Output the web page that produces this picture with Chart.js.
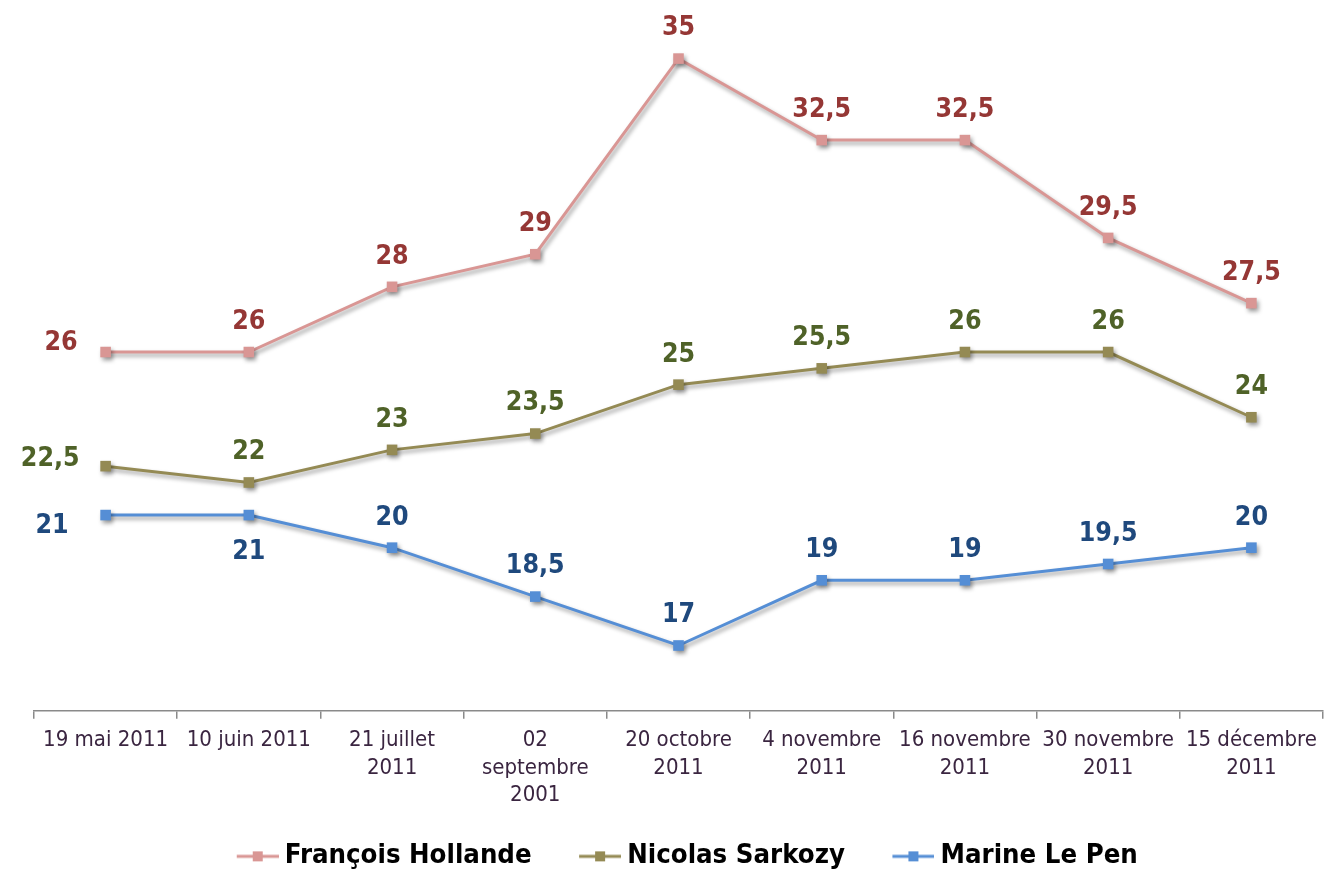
<!DOCTYPE html>
<html><head><meta charset="utf-8">
<script src="https://cdn.jsdelivr.net/npm/chart.js@4"></script>
<style>html,body{margin:0;padding:0;background:#fff}#wrap{width:1325px;height:872px}</style>
</head><body><div id="wrap"><canvas id="c" width="1325" height="872"></canvas></div>
<script>
const categories = [["19 mai 2011"],["10 juin 2011"],["21 juillet","2011"],["02","septembre","2001"],["20 octobre","2011"],["4 novembre","2011"],["16 novembre","2011"],["30 novembre","2011"],["15 décembre","2011"]];
const seriesNames = ["François Hollande","Nicolas Sarkozy","Marine Le Pen"];
const hollande = [26, 26, 28, 29, 35, 32.5, 32.5, 29.5, 27.5];
const sarkozy  = [22.5, 22, 23, 23.5, 25, 25.5, 26, 26, 24];
const lePen    = [21, 21, 20, 18.5, 17, 19, 19, 19.5, 20];

// label placement (style, not data)
const hollandePlace = ['leftHi','above','above','above','above','above','above','above','above'];
const sarkozyPlace  = ['leftMid','above','above','above','above','above','above','above','above'];
const lePenPlace    = ['leftLow','below','above','above','above','above','above','above','above'];
const placeOffsets = {
  above:   [0, -30, 'center'],
  below:   [0, 37, 'center'],
  leftHi:  [-28, -9, 'right'],
  leftMid: [-26, -7, 'right'],
  leftLow: [-37, 11, 'right']
};

const FONT = "'DejaVu Sans Condensed', 'DejaVu Sans', sans-serif";
const lineColors  = ['#D99694', '#948A54', '#558ED5'];
const labelColors = ['#953735', '#4F6228', '#1F497D'];

function legendIcon(color) {
  // 67px wide image; visible icon drawn in the right 42px
  const cv = document.createElement('canvas');
  cv.width = 67; cv.height = 14;
  const g = cv.getContext('2d');
  g.strokeStyle = color; g.lineWidth = 3;
  g.beginPath(); g.moveTo(25, 7); g.lineTo(67, 7); g.stroke();
  g.fillStyle = color; g.fillRect(41, 2, 10, 10);
  return cv;
}

const mkDs = (name, data, i, place) => ({
  label: name, data: data,
  borderColor: lineColors[i], backgroundColor: lineColors[i],
  borderWidth: 3, pointStyle: 'rect', pointRadius: 7.5, pointBorderWidth: 0,
  pointBackgroundColor: lineColors[i], tension: 0, clip: false,
  _place: place, _labelColor: labelColors[i]
});

const shadowAndLabels = {
  id: 'shadowAndLabels',
  beforeDatasetsDraw(chart) {
    const ctx = chart.ctx;
    ctx.save();
    ctx.shadowColor = 'rgba(0,0,0,0.38)';
    ctx.shadowBlur = 4;
    ctx.shadowOffsetX = 2;
    ctx.shadowOffsetY = 3;
  },
  afterDatasetsDraw(chart) {
    const ctx = chart.ctx;
    ctx.restore();
    ctx.save();
    ctx.font = 'bold 26.5px ' + FONT;
    ctx.textBaseline = 'middle';
    chart.data.datasets.forEach((ds, di) => {
      const meta = chart.getDatasetMeta(di);
      meta.data.forEach((pt, j) => {
        const off = placeOffsets[ds._place[j]];
        ctx.fillStyle = ds._labelColor;
        ctx.textAlign = off[2];
        const txt = String(ds.data[j]).replace('.', ',');
        ctx.fillText(txt, pt.x + off[0], pt.y + off[1]);
      });
    });
    ctx.restore();
  }
};

new Chart(document.getElementById('c'), {
  type: 'line',
  data: {
    labels: categories,
    datasets: [
      mkDs(seriesNames[0], hollande, 0, hollandePlace),
      mkDs(seriesNames[1], sarkozy, 1, sarkozyPlace),
      mkDs(seriesNames[2], lePen, 2, lePenPlace)
    ]
  },
  options: {
    responsive: false,
    animation: false,
    layout: { autoPadding: false, padding: { left: 34, right: 2, top: 26, bottom: -8 } },
    scales: {
      x: {
        offset: true,
        grid: { offset: true, drawOnChartArea: false, drawTicks: true, tickLength: 8, color: '#8a8a8a', lineWidth: 1.5 },
        border: { display: true, color: '#8a8a8a', width: 1.5 },
        ticks: { autoSkip: false, maxRotation: 0, minRotation: 0, padding: 8, color: '#3a2540',
                 font: { family: FONT, size: 22, lineHeight: 1.25 } },
        afterFit(scale) { scale.height = 102; scale.paddingLeft = 0; scale.paddingRight = 0; }
      },
      y: { display: false, min: 15, max: 36 }
    },
    plugins: {
      tooltip: { enabled: false },
      legend: {
        position: 'bottom',
        labels: {
          usePointStyle: true,
          pointStyleWidth: 52,
          padding: 30,
          color: '#000',
          font: { family: FONT, size: 27.3, weight: 'bold' },
          generateLabels(chart) {
            return chart.data.datasets.map((ds, i) => ({
              text: ds.label, fillStyle: lineColors[i], strokeStyle: lineColors[i],
              lineWidth: 0, pointStyle: legendIcon(lineColors[i]), datasetIndex: i, hidden: false
            }));
          }
        }
      }
    }
  },
  plugins: [shadowAndLabels]
});
</script></body></html>
